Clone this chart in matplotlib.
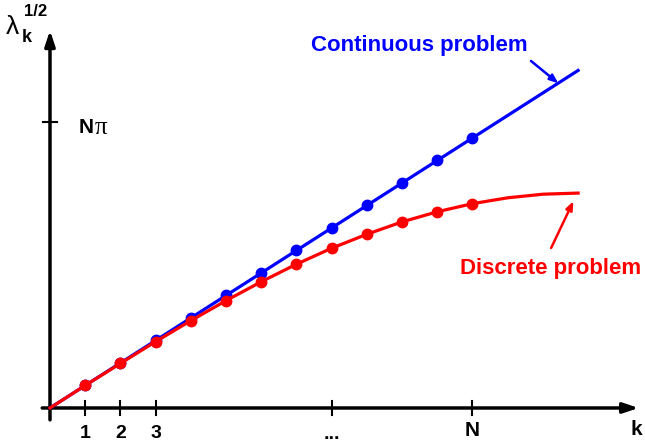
import numpy as np
import matplotlib.pyplot as plt

plt.rcParams['font.family'] = ['Liberation Sans', 'DejaVu Sans']
plt.rcParams['font.weight'] = 'bold'

# data (k, sqrt(lambda_k) in units of the continuous slope)
k_pts = [1, 2, 3, 4, 5, 6, 7, 8, 9, 10, 11, 12]
cont_pts = [1, 2, 3, 4, 5, 6, 7, 8, 9, 10, 11, 12]
disc_pts = [1.00, 1.98, 2.95, 3.88, 4.77, 5.61, 6.39, 7.10, 7.72, 8.27, 8.72, 9.08]
# tails of the lines past k = N
k_tail = [12, 13, 14, 15]
cont_tail = [12, 13, 14, 15]
disc_tail = [9.08, 9.34, 9.50, 9.55]
xtick_pos = [1, 2, 3, 8, 12]
xtick_lab = ['1', '2', '3', '...', 'N']
npi = 12.7

blue = '#0000ff'
red = '#ff0000'

fig = plt.figure(figsize=(6.45, 4.43), dpi=100)
ax = fig.add_axes([0, 0, 1, 1])
ax.set_xlim(-1.42, 16.90)
ax.set_ylim(-1.556, 18.13)
ax.axis('off')

# axes with arrows
ax.annotate('', xy=(16.8, 0), xytext=(-0.3, 0),
            arrowprops=dict(arrowstyle='-|>,head_length=0.9,head_width=0.3', color='k', lw=2.5))
ax.annotate('', xy=(0, 16.9), xytext=(0, -0.65),
            arrowprops=dict(arrowstyle='-|>,head_length=0.9,head_width=0.3', color='k', lw=2.5))

for xp, lab in zip(xtick_pos, xtick_lab):
    ax.plot([xp, xp], [-0.32, 0.32], color='k', lw=1.5)
    if lab == '...':
        ax.text(xp, -1.18, lab, ha='center', va='center', fontsize=14, fontweight='bold')
    elif lab == 'N':
        ax.text(xp, -1.0, lab, ha='center', va='center', fontsize=15, fontweight='bold')
    else:
        ax.text(xp, -1.15, lab, ha='center', va='center', fontsize=14, fontweight='bold')
ax.text(16.65, -0.95, 'k', ha='center', va='center', fontsize=15, fontweight='bold')

ax.plot([-0.2, 0.2], [npi, npi], color='k', lw=1.5)
ax.text(0.82, npi - 0.25, 'N', ha='left', va='center', fontsize=15, fontweight='bold')
ax.text(1.28, npi - 0.25, 'π', ha='left', va='center', fontsize=18, fontweight='normal',
        family=['Liberation Serif', 'DejaVu Serif'])
# y-axis label lambda_k^(1/2)
ax.text(-1.25, 16.95, 'λ', ha='left', va='center', fontsize=19, fontweight='normal')
ax.text(-0.8, 16.45, 'k', ha='left', va='center', fontsize=13, fontweight='bold')
ax.text(-0.74, 17.6, '1/2', ha='left', va='center', fontsize=12, fontweight='bold')

# continuous problem
ax.plot([0] + k_tail[:1], [0] + cont_tail[:1], color=blue, lw=2.3, zorder=3)
ax.plot(k_tail, cont_tail, color=blue, lw=2.3, zorder=3)
ax.plot(k_pts, cont_pts, 'o', color=blue, ms=7.5, zorder=3)

# discrete problem
ax.plot([0] + k_pts, [0] + disc_pts, color=red, lw=2.3, zorder=4)
ax.plot(k_tail, disc_tail, color=red, lw=2.3, zorder=4)
ax.plot(k_pts, disc_pts, 'o', color=red, ms=7.5, zorder=4)

ax.text(7.4, 16.1, 'Continuous problem', color=blue, fontsize=16, fontweight='bold',
        ha='left', va='center')
ax.annotate('', xy=(14.5, 14.35), xytext=(13.6, 15.5),
            arrowprops=dict(arrowstyle='-|>,head_length=0.5,head_width=0.2', color=blue, lw=1.8))

ax.text(11.65, 6.2, 'Discrete problem', color=red, fontsize=16, fontweight='bold',
        ha='left', va='center')
ax.annotate('', xy=(14.9, 9.3), xytext=(14.2, 7.0),
            arrowprops=dict(arrowstyle='-|>,head_length=0.5,head_width=0.2', color=red, lw=1.8))

fig.savefig('out.png', dpi=100)
